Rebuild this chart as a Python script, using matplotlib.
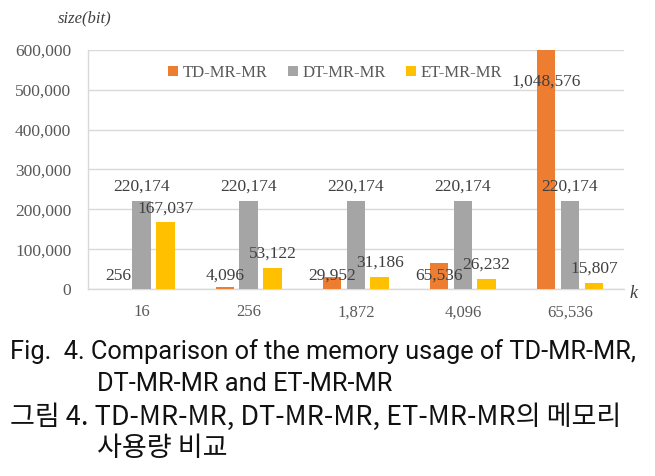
import matplotlib
matplotlib.use("Agg")
import matplotlib.pyplot as plt
import numpy as np
from matplotlib.patches import Patch

categories = ["16", "256", "1,872", "4,096", "65,536"]
series_names = ["TD-MR-MR", "DT-MR-MR", "ET-MR-MR"]
td_values = [256, 4096, 29952, 65536, 1048576]
dt_values = [220174, 220174, 220174, 220174, 220174]
et_values = [167037, 53122, 31186, 26232, 15807]
y_ticks = [0, 100000, 200000, 300000, 400000, 500000, 600000]
colors = ["#ED7D31", "#A5A5A5", "#FFC000"]

serif = ["Liberation Serif", "DejaVu Serif"]

fig = plt.figure(figsize=(6.55, 4.76), dpi=100)
ax = fig.add_axes([0.1344, 0.3929, 0.8176, 0.5021])

x = np.arange(len(categories))
w = 0.173
step = 0.222
ymax = 600000
all_series = [td_values, dt_values, et_values]
for i, (vals, c) in enumerate(zip(all_series, colors)):
    xs = x + (i - 1) * step
    ax.bar(xs, vals, width=w, color=c, zorder=3)
    for xi, v in zip(xs, vals):
        label = f"{v:,}"
        if v > ymax:
            ax.annotate(label, (xi, ymax), xytext=(0, -23), textcoords="offset points",
                        ha="center", va="center", fontsize=12.5, family=serif,
                        color="#404040", zorder=5, annotation_clip=False)
        elif i == 0:
            ax.annotate(label, (xi, 0), xytext=(0, 9.5), textcoords="offset points",
                        ha="center", va="center", fontsize=12.5, family=serif,
                        color="#404040", zorder=5)
        else:
            ax.annotate(label, (xi, v), xytext=(0, 10.2), textcoords="offset points",
                        ha="center", va="center", fontsize=12.5, family=serif,
                        color="#404040", zorder=5)

ax.set_xlim(-0.5, len(categories) - 0.5)
ax.set_ylim(0, ymax)
ax.set_yticks(y_ticks)
ax.set_yticklabels([f"{t:,}" for t in y_ticks], family=serif, fontsize=12.5, color="#595959")
ax.set_xticks(x)
ax.set_xticklabels(categories, family=serif, fontsize=12, color="#595959")
ax.tick_params(axis="both", length=0)
ax.tick_params(axis="y", pad=12)
ax.tick_params(axis="x", pad=11)
ax.grid(axis="y", color="#D9D9D9", linewidth=1, zorder=0)
for s in ["top", "right"]:
    ax.spines[s].set_visible(False)
for s in ["left", "bottom"]:
    ax.spines[s].set_color("#D9D9D9")
    ax.spines[s].set_linewidth(1)

handles = [Patch(facecolor=c, edgecolor="none") for c in colors]
fig.legend(handles, series_names, loc="center", bbox_to_anchor=(335 / 655, 1 - 73 / 476),
           ncol=3, frameon=False, prop={"family": serif, "size": 12},
           handlelength=0.6, handleheight=0.6, handletextpad=0.3, columnspacing=1.2,
           labelcolor="#595959")

fig.text(85 / 655, 1 - 18 / 476, "size(bit)", ha="center", va="center",
         family=serif, style="italic", fontsize=12, color="#404040")
fig.text(633 / 655, 1 - 293 / 476, "k", ha="center", va="center",
         family=serif, style="italic", fontsize=13, color="#404040")

cap = ["Roboto", "Noto Sans CJK KR", "DejaVu Sans"]
capk = ["Noto Sans CJK KR", "DejaVu Sans"]
fig.text(10 / 655, 1 - 352 / 476, "Fig.  4. Comparison of the memory usage of TD-MR-MR,",
         ha="left", va="center", family=cap, fontsize=18.3, color="#111111")
fig.text(97 / 655, 1 - 384 / 476, "DT-MR-MR and ET-MR-MR",
         ha="left", va="center", family=cap, fontsize=18.3, color="#111111")
fig.text(10 / 655, 1 - 417 / 476, "그림 4. TD-MR-MR, DT-MR-MR, ET-MR-MR의 메모리",
         ha="left", va="center", family=capk, fontsize=19.5, color="#111111")
fig.text(97 / 655, 1 - 449 / 476, "사용량 비교",
         ha="left", va="center", family=capk, fontsize=19.5, color="#111111")

fig.savefig("out.png", dpi=100)
